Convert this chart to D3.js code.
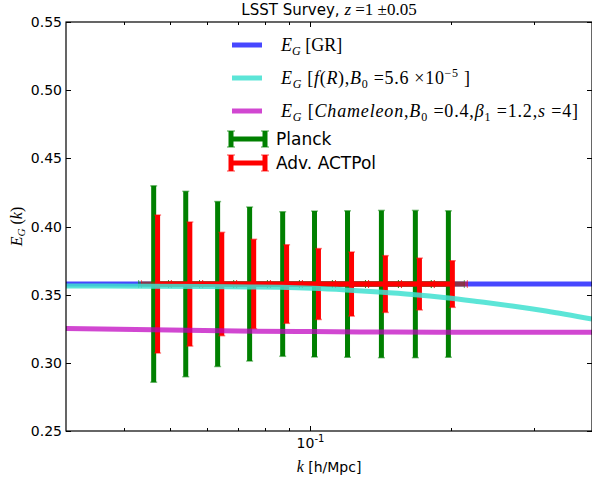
<!DOCTYPE html>
<html><head><meta charset="utf-8">
<script src="https://cdn.jsdelivr.net/npm/d3@7"></script>
<style>
html,body{margin:0;padding:0;background:#fff;}
svg{display:block;}
</style></head>
<body>
<svg id="chart" width="592" height="480"></svg>
<script>
// ---------- data ----------
const kLimits = [0.03, 0.4];
const egLimits = [0.25, 0.55];
const yTicks = [0.25, 0.30, 0.35, 0.40, 0.45, 0.50, 0.55];
const xMinorTicks = [0.04, 0.05, 0.06, 0.07, 0.08, 0.09, 0.2, 0.3];
const xMajorTicks = [0.1];

const kGR = [0.03, 0.4];
const egGR = [0.3578, 0.3578];

const kFR = [0.03, 0.045, 0.06, 0.075, 0.086, 0.101, 0.119, 0.140, 0.165, 0.195, 0.230, 0.270, 0.319, 0.40];
const egFR = [0.3563, 0.3562, 0.3560, 0.3557, 0.3554, 0.3547, 0.3535, 0.3520, 0.3502, 0.3478, 0.3448, 0.3417, 0.3380, 0.3321];

const kCham = [0.03, 0.05, 0.07, 0.1, 0.15, 0.2, 0.3, 0.4];
const egCham = [0.3252, 0.3240, 0.3233, 0.3229, 0.3226, 0.3225, 0.3224, 0.3224];

const kPlanck = [0.0462, 0.0541, 0.0633, 0.0741, 0.0872, 0.1020, 0.1200, 0.1418, 0.1676, 0.1972];
const egPlanck = [0.3578, 0.3578, 0.3578, 0.3578, 0.3578, 0.3578, 0.3578, 0.3578, 0.3578, 0.3578];
const errPlanck = [0.072, 0.068, 0.0605, 0.0565, 0.053, 0.0535, 0.0537, 0.054, 0.054, 0.0537];
const kLoPlanck = [0.0429, 0.0497, 0.0579, 0.0685, 0.0809, 0.0947, 0.1114, 0.1311, 0.1542, 0.1813];
const kHiPlanck = [0.0497, 0.0579, 0.0685, 0.0809, 0.0947, 0.1114, 0.1311, 0.1542, 0.1813, 0.2133];

const kACT = [0.0471, 0.0552, 0.0646, 0.0756, 0.0889, 0.1040, 0.1224, 0.1446, 0.1710, 0.2011];
const egACT = [0.3578, 0.3578, 0.3578, 0.3578, 0.3578, 0.3578, 0.3578, 0.3578, 0.3578, 0.3578];
const errACT = [0.0506, 0.0455, 0.0379, 0.0328, 0.0288, 0.0260, 0.0235, 0.0208, 0.0190, 0.0171];
const kLoACT = [0.0435, 0.0504, 0.0588, 0.0695, 0.0821, 0.0961, 0.1131, 0.1331, 0.1565, 0.1840];
const kHiACT = [0.0504, 0.0588, 0.0695, 0.0821, 0.0961, 0.1131, 0.1331, 0.1565, 0.1840, 0.2165];

// ---------- layout ----------
const L = 66, R = 592, T = 22, B = 431;
const svg = d3.select("#chart");
const x = d3.scaleLog().domain(kLimits).range([L, R]);
const y = d3.scaleLinear().domain(egLimits).range([B, T]);

const serif = "'Liberation Serif','DejaVu Serif',serif";
const sans = "'DejaVu Sans',sans-serif";

const plot = svg.append("g");
svg.append("clipPath").attr("id","clip").append("rect")
  .attr("x", L).attr("y", T).attr("width", R - L).attr("height", B - T);
const inner = plot.append("g").attr("clip-path", "url(#clip)");

const line = d3.line().x(d => x(d[0])).y(d => y(d[1]));
const curve = d3.line().x(d => x(d[0])).y(d => y(d[1])).curve(d3.curveMonotoneX);

// GR line
inner.append("path").datum(d3.zip(kGR, egGR)).attr("d", line)
  .attr("fill","none").attr("stroke","#0000ff").attr("stroke-opacity",0.72).attr("stroke-width",5);

function errSeries(ks, es, errs, klo, khi, color) {
  const g = inner.append("g");
  ks.forEach((k, i) => {
    g.append("line").attr("x1", x(klo[i])).attr("x2", x(khi[i]))
      .attr("y1", y(es[i])).attr("y2", y(es[i]))
      .attr("stroke", color).attr("stroke-width", 5).attr("stroke-opacity", 0.45);
    [klo[i], khi[i]].forEach(kk => {
      g.append("line").attr("x1", x(kk)).attr("x2", x(kk))
        .attr("y1", y(es[i]) - 4).attr("y2", y(es[i]) + 4)
        .attr("stroke", color).attr("stroke-width", 1).attr("stroke-opacity", 0.6);
    });
  });
  g.append("path").datum(d3.zip(ks, es)).attr("d", line)
    .attr("fill","none").attr("stroke", color).attr("stroke-width", 5);
  ks.forEach((k, i) => {
    const xi = x(k);
    g.append("line").attr("x1", xi).attr("x2", xi)
      .attr("y1", y(es[i] + errs[i])).attr("y2", y(es[i] - errs[i]))
      .attr("stroke", color).attr("stroke-width", 5);
    [es[i] + errs[i], es[i] - errs[i]].forEach(v => {
      g.append("line").attr("x1", xi - 3.5).attr("x2", xi + 3.5)
        .attr("y1", y(v)).attr("y2", y(v))
        .attr("stroke", color).attr("stroke-width", 1.5).attr("stroke-opacity", 0.5);
    });
  });
}
errSeries(kPlanck, egPlanck, errPlanck, kLoPlanck, kHiPlanck, "#008000");
errSeries(kACT, egACT, errACT, kLoACT, kHiACT, "#ff0000");

// f(R) & chameleon
inner.append("path").datum(d3.zip(kFR, egFR)).attr("d", curve)
  .attr("fill","none").attr("stroke","#40e0d0").attr("stroke-opacity",0.85).attr("stroke-width",5);
inner.append("path").datum(d3.zip(kCham, egCham)).attr("d", curve)
  .attr("fill","none").attr("stroke","#bf00bf").attr("stroke-opacity",0.72).attr("stroke-width",5);

// ---------- axes ----------
const ax = svg.append("g");
ax.append("rect").attr("x", L).attr("y", T).attr("width", R - L).attr("height", B - T)
  .attr("fill","none").attr("stroke","#000").attr("stroke-width",1.2);
yTicks.forEach(v => {
  const yy = Math.round(y(v)) + 0.5;
  ax.append("line").attr("x1", L).attr("x2", L + 5).attr("y1", yy).attr("y2", yy).attr("stroke","#000");
  ax.append("line").attr("x1", R - 5).attr("x2", R).attr("y1", yy).attr("y2", yy).attr("stroke","#000");
  ax.append("text").attr("x", L - 4).attr("y", y(v) + 5).attr("text-anchor","end")
    .attr("font-family", sans).attr("font-size", 14).text(v.toFixed(2));
});
xMinorTicks.forEach(v => {
  const xx = Math.round(x(v)) + 0.5;
  ax.append("line").attr("x1", xx).attr("x2", xx).attr("y1", B).attr("y2", B - 3).attr("stroke","#000");
  ax.append("line").attr("x1", xx).attr("x2", xx).attr("y1", T).attr("y2", T + 3).attr("stroke","#000");
});
xMajorTicks.forEach(v => {
  const xx = Math.round(x(v)) + 0.5;
  ax.append("line").attr("x1", xx).attr("x2", xx).attr("y1", B).attr("y2", B - 5).attr("stroke","#000");
  ax.append("line").attr("x1", xx).attr("x2", xx).attr("y1", T).attr("y2", T + 5).attr("stroke","#000");
  const t = ax.append("text").attr("x", x(v)).attr("y", 448).attr("text-anchor","middle")
    .attr("font-family", sans).attr("font-size", 14);
  t.append("tspan").text("10");
  t.append("tspan").attr("dy", -6).attr("font-size", 10).text("-1");
});

// axis labels
const xl = svg.append("text").attr("x", (L + R) / 2).attr("y", 472).attr("text-anchor","middle")
  .attr("font-size", 14);
xl.append("tspan").attr("font-family", serif).attr("font-style","italic").attr("font-size",16).text("k");
xl.append("tspan").attr("font-family", sans).text(" [h/Mpc]");

const yl = svg.append("text").attr("transform", `translate(22,${(T + B) / 2}) rotate(-90)`)
  .attr("text-anchor","middle").attr("font-family", serif).attr("font-size", 16);
yl.append("tspan").attr("font-style","italic").text("E");
yl.append("tspan").attr("font-style","italic").attr("font-size",11).attr("dy",3).text("G");
yl.append("tspan").attr("dy",-3).text(" (");
yl.append("tspan").attr("font-style","italic").text("k");
yl.append("tspan").text(")");

// title
const tt = svg.append("text").attr("x", (L + R) / 2).attr("y", 15).attr("text-anchor","middle")
  .attr("font-size", 15);
tt.append("tspan").attr("font-family", sans).text("LSST Survey, ");
tt.append("tspan").attr("font-family", serif).attr("font-style","italic").attr("font-size",17).text("z");
tt.append("tspan").attr("font-family", serif).attr("font-size",17).text(" =1 ±0.05");

// ---------- legend ----------
const lg = svg.append("g");
const lineRows = [
  {c:"#0000ff", o:0.72, y:45},
  {c:"#40e0d0", o:0.85, y:78},
  {c:"#bf00bf", o:0.72, y:111}
];
lineRows.forEach(r => {
  lg.append("line").attr("x1", 232).attr("x2", 262).attr("y1", r.y).attr("y2", r.y)
    .attr("stroke", r.c).attr("stroke-opacity", r.o).attr("stroke-width", 5);
});
function mathLabel(yb, parts, len) {
  const t = lg.append("text").attr("x", 281).attr("y", yb).attr("font-family", serif).attr("font-size", 18);
  if (len) t.attr("textLength", len).attr("lengthAdjust", "spacing");
  t.append("tspan").attr("font-style","italic").text("E");
  t.append("tspan").attr("font-style","italic").attr("font-size",12).attr("dy",4).text("G");
  t.append("tspan").attr("dy",-4).text(" [");
  parts.forEach(p => {
    const s = t.append("tspan").text(p.t);
    if (p.i) s.attr("font-style","italic");
    if (p.dy) s.attr("dy", p.dy);
    if (p.fs) s.attr("font-size", p.fs);
  });
  t.append("tspan").text("]");
}
mathLabel(51, [{t:"GR"}]);
mathLabel(84, [{t:"f",i:1},{t:"("},{t:"R",i:1},{t:"),"},{t:"B",i:1},{t:"0",fs:12,dy:4},{t:" =5.6 ×10",dy:-4},{t:"−5",fs:12,dy:-7},{t:" ",dy:7}], 189);
mathLabel(117, [{t:"Chameleon",i:1},{t:","},{t:"B",i:1},{t:"0",fs:12,dy:4},{t:" =0.4,",dy:-4},{t:"β",i:1},{t:"1",fs:12,dy:4},{t:" =1.2,",dy:-4},{t:"s",i:1},{t:" =4"}], 297);

[{c:"#008000", y:139, label:"Planck"}, {c:"#ff0000", y:163, label:"Adv. ACTPol"}].forEach(r => {
  lg.append("line").attr("x1", 229).attr("x2", 267).attr("y1", r.y).attr("y2", r.y)
    .attr("stroke", r.c).attr("stroke-width", 5);
  [231, 265].forEach(xx => {
    lg.append("line").attr("x1", xx).attr("x2", xx).attr("y1", r.y - 8).attr("y2", r.y + 8)
      .attr("stroke", r.c).attr("stroke-width", 5);
    lg.append("line").attr("x1", xx - 4).attr("x2", xx + 4).attr("y1", r.y - 8).attr("y2", r.y - 8)
      .attr("stroke", r.c).attr("stroke-width", 1.5).attr("stroke-opacity", 0.5);
    lg.append("line").attr("x1", xx - 4).attr("x2", xx + 4).attr("y1", r.y + 8).attr("y2", r.y + 8)
      .attr("stroke", r.c).attr("stroke-width", 1.5).attr("stroke-opacity", 0.5);
  });
  lg.append("text").attr("x", 276).attr("y", r.y + 6).attr("font-family", sans).attr("font-size", 17).text(r.label);
});
</script>
</body></html>
